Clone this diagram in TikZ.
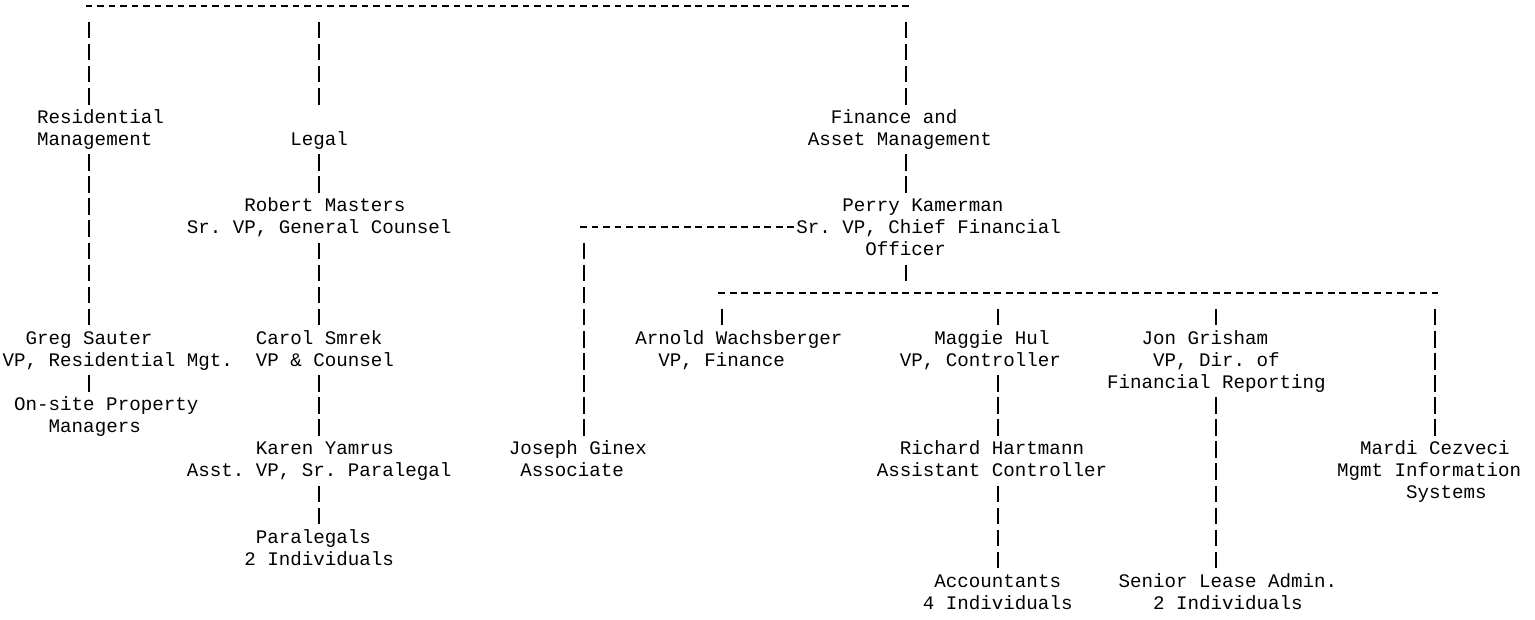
\documentclass[tikz,border=0pt]{standalone}
\usepackage{fontspec}
\newfontfamily\chartfont{Liberation Mono}
\tikzset{
  lbl/.style={anchor=base west, inner sep=0pt, outer sep=0pt,
              font=\chartfont\fontsize{19.17}{22.09}\selectfont, text=black},
  vline/.style={line width=1.7pt, draw=black, dash pattern=on 16.6pt off 5.49pt},
  hline/.style={line width=1.6pt, draw=black, dash pattern=on 6.7pt off 4.803pt},
}
% label: name, column, row, text
\newcommand\lab[4]{\node[lbl] (#1) at ({2.73+#2*11.503},{-(12.85+#3*22.09)}) {#4};}
% vertical connector: name, column, first row, last row
\newcommand\vcon[4]{%
  \coordinate (#1-a) at ({round(8.48+#2*11.503)},{-(12.85+#3*22.09)+13.3});
  \coordinate (#1-b) at ({round(8.48+#2*11.503)},{-(12.85+#4*22.09)-3.3});
  \draw[vline] (#1-a) -- (#1-b);}
% horizontal connector: name, row, first column, last column
\newcommand\hcon[4]{%
  \coordinate (#1-a) at ({5.13+#3*11.503},{-round(12.85+#2*22.09-6.8)});
  \coordinate (#1-b) at ({11.83+#4*11.503},{-round(12.85+#2*22.09-6.8)});
  \draw[hline] (#1-a) -- (#1-b);}
\begin{document}
\frenchspacing
\begin{tikzpicture}[x=1pt,y=1pt]
\useasboundingbox (0,0) rectangle (1535,-619);
% ---------- labels ----------
\lab{res1}{3}{5}{Residential}
\lab{res2}{3}{6}{Management}
\lab{legal}{25}{6}{Legal}
\lab{fin1}{72}{5}{Finance and}
\lab{fin2}{70}{6}{Asset Management}
\lab{rob1}{21}{9}{Robert Masters}
\lab{rob2}{16}{10}{Sr. VP, General Counsel}
\lab{per1}{73}{9}{Perry Kamerman}
\lab{per2}{69}{10}{Sr. VP, Chief Financial}
\lab{per3}{75}{11}{Officer}
\lab{greg1}{2}{15}{Greg Sauter}
\lab{greg2}{0}{16}{VP, Residential Mgt.}
\lab{onsite1}{1}{18}{On-site Property}
\lab{onsite2}{4}{19}{Managers}
\lab{car1}{22}{15}{Carol Smrek}
\lab{car2}{22}{16}{VP \& Counsel}
\lab{kar1}{22}{20}{Karen Yamrus}
\lab{kar2}{16}{21}{Asst. VP, Sr. Paralegal}
\lab{para1}{22}{24}{Paralegals}
\lab{para2}{21}{25}{2 Individuals}
\lab{jos1}{44}{20}{Joseph Ginex}
\lab{jos2}{45}{21}{Associate}
\lab{arn1}{55}{15}{Arnold Wachsberger}
\lab{arn2}{57}{16}{VP, Finance}
\lab{mag1}{81}{15}{Maggie Hul}
\lab{mag2}{78}{16}{VP, Controller}
\lab{ric1}{78}{20}{Richard Hartmann}
\lab{ric2}{76}{21}{Assistant Controller}
\lab{acc1}{81}{26}{Accountants}
\lab{acc2}{80}{27}{4 Individuals}
\lab{jon1}{99}{15}{Jon Grisham}
\lab{jon2}{100}{16}{VP, Dir. of}
\lab{jon3}{96}{17}{Financial Reporting}
\lab{sen1}{97}{26}{Senior Lease Admin.}
\lab{sen2}{100}{27}{2 Individuals}
\lab{mar1}{118}{20}{Mardi Cezveci}
\lab{mar2}{116}{21}{Mgmt Information}
\lab{mar3}{122}{22}{Systems}
% ---------- horizontal connectors ----------
\hcon{topbar}{0}{7}{78}
\hcon{cfobar}{10}{50}{68}
\hcon{finbar}{13}{62}{124}
% ---------- vertical connectors ----------
\vcon{top-res}{7}{1}{4}
\vcon{res-greg}{7}{7}{14}
\vcon{greg-onsite}{7}{17}{17}
\vcon{top-legal}{27}{1}{4}
\vcon{legal-rob}{27}{7}{8}
\vcon{rob-car}{27}{11}{14}
\vcon{car-kar}{27}{17}{19}
\vcon{kar-para}{27}{22}{23}
\vcon{top-fin}{78}{1}{4}
\vcon{fin-per}{78}{7}{8}
\vcon{per-bar}{78}{12}{12}
\vcon{bar-jos}{50}{11}{19}
\vcon{bar-arn}{62}{14}{14}
\vcon{bar-mag}{86}{14}{14}
\vcon{mag-ric}{86}{17}{19}
\vcon{ric-acc}{86}{22}{25}
\vcon{bar-jon}{105}{14}{14}
\vcon{jon-sen}{105}{18}{25}
\vcon{bar-mar}{124}{14}{19}
\end{tikzpicture}
\end{document}
